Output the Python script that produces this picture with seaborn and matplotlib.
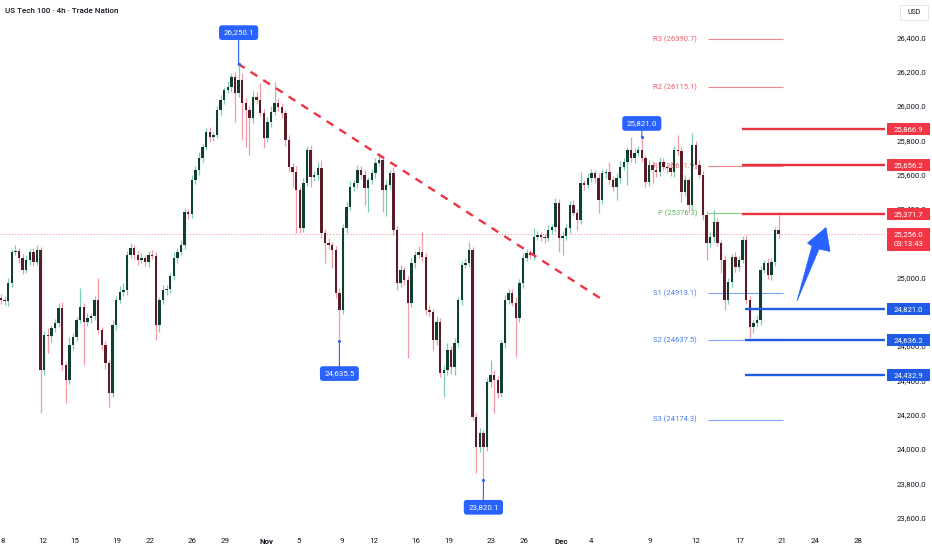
import matplotlib
matplotlib.use("Agg")
import numpy as np
import pandas as pd
import matplotlib.pyplot as plt
import seaborn as sns
from matplotlib.patches import Rectangle, Polygon
from matplotlib.transforms import blended_transform_factory

# ---------------- data ----------------
closes = [
    24872, 24865, 24971, 25152, 25160, 25117, 25047, 25105, 25152, 25093,
    25163, 24464, 24668, 24660, 24708, 24738, 24825, 24493, 24405, 24609,
    24656, 24755, 24831, 24743, 24767, 24778, 24872, 24697, 24609, 24504,
    24329, 24726, 24872, 24918, 24930, 25134, 25175, 25134, 25105, 25117,
    25093, 25134, 25128, 24726, 24872, 24930, 24935, 25012, 25117, 25152,
    25192, 25385, 25373, 25571, 25630, 25700, 25764, 25851, 25822, 25834,
    25980, 26038, 26096, 26114, 26172, 26079, 26155, 26020, 25980, 25933,
    26055, 26038, 25962, 25816, 25910, 25968, 26020, 25997, 25962, 25805,
    25647, 25618, 25513, 25292, 25554, 25746, 25589, 25601, 25641, 25262,
    25204, 25192, 25163, 24913, 24813, 25292, 25414, 25531, 25554, 25630,
    25601, 25525, 25571, 25612, 25671, 25688, 25513, 25542, 25612, 25280,
    24971, 25047, 24988, 24854, 25087, 25134, 25152, 25122, 24813, 24802,
    24638, 24743, 24446, 24464, 24580, 24481, 24621, 24872, 25076, 25087,
    25163, 24190, 24015, 24096, 24015, 24394, 24434, 24405, 24329, 24621,
    24872, 24913, 24854, 24767, 24971, 25117, 25146, 25134, 25239, 25251,
    25239, 25235, 25280, 25297, 25437, 25233, 25245, 25292, 25426, 25379,
    25338, 25554, 25542, 25583, 25612, 25583, 25455, 25612, 25618, 25571,
    25531, 25583, 25647, 25676, 25746, 25700, 25729, 25746, 25700, 25560,
    25659, 25630, 25618, 25676, 25647, 25641, 25618, 25746, 25740, 25501,
    25571, 25426, 25776, 25659, 25601, 25367, 25204, 25239, 25327, 25204,
    25105, 24872, 24977, 25122, 25064, 25105, 25222, 24872, 24714, 24738,
    24755, 25047, 25087, 25017, 25093, 25280, 25256,
]
first_open = 24885.0

# wick lengths above the body top / below the body bottom (index points)
upper_wick = [
    20, 25, 30, 20, 35, 15, 25, 30, 20, 25,
    30, 20, 25, 40, 20, 25, 30, 35, 20, 45,
    25, 20, 110, 25, 30, 20, 25, 128, 20, 25,
    20, 30, 25, 35, 40, 25, 30, 20, 25, 30,
    20, 25, 30, 25, 20, 30, 25, 20, 35, 25,
    30, 25, 20, 30, 25, 35, 20, 25, 30, 20,
    25, 30, 20, 35, 25, 30, 95.1, 40, 30, 25,
    35, 30, 99, 25, 30, 35, 123, 30, 25, 20,
    30, 25, 35, 20, 30, 25, 30, 20, 35, 47,
    25, 30, 20, 25, 30, 25, 30, 35, 20, 30,
    25, 30, 20, 25, 30, 41, 25, 30, 20, 35,
    25, 30, 20, 25, 30, 25, 35, 118, 25, 30,
    20, 35, 25, 30, 40, 25, 30, 20, 25, 30,
    47, 20, 25, 30, 20, 25, 88, 30, 25, 20,
    30, 25, 20, 35, 25, 30, 25, 20, 50, 25,
    20, 25, 30, 20, 29, 25, 30, 20, 25, 30,
    25, 64, 20, 30, 25, 20, 30, 25, 20, 58,
    25, 30, 35, 25, 20, 76, 30, 25, 75, 20,
    30, 25, 20, 30, 25, 20, 35, 25, 88, 25,
    30, 20, 69, 25, 30, 20, 25, 30, 70, 25,
    20, 30, 25, 20, 30, 25, 20, 30, 25, 20,
    30, 25, 20, 30, 25, 20, 87,
]
lower_wick = [
    25, 20, 30, 25, 20, 30, 25, 20, 30, 25,
    20, 251, 30, 97, 35, 20, 25, 30, 134, 25,
    30, 25, 20, 250, 25, 30, 20, 25, 30, 35,
    81, 25, 30, 20, 25, 30, 20, 25, 30, 20,
    25, 30, 20, 88, 40, 25, 30, 20, 25, 30,
    20, 25, 30, 25, 20, 30, 25, 20, 30, 25,
    20, 30, 25, 20, 30, 169, 25, 215, 216, 216,
    30, 25, 20, 58, 25, 30, 20, 25, 30, 35,
    25, 87, 250, 30, 25, 20, 60, 25, 30, 30,
    117, 25, 105, 30, 177.5, 25, 30, 20, 25, 30,
    25, 100, 140, 25, 30, 20, 128, 150, 25, 30,
    40, 25, 30, 320, 25, 30, 20, 25, 30, 25,
    60, 30, 25, 140, 30, 40, 47, 25, 30, 20,
    25, 20, 152, 30, 194.9, 25, 30, 192, 29, 25,
    30, 25, 20, 227, 25, 30, 20, 25, 30, 20,
    25, 30, 20, 25, 30, 81, 100, 25, 30, 20,
    58, 25, 30, 20, 25, 30, 76, 25, 30, 20,
    25, 76, 30, 20, 134, 25, 30, 20, 25, 29,
    25, 76, 30, 25, 20, 30, 25, 30, 20, 58,
    25, 41, 30, 25, 20, 30, 99, 25, 30, 20,
    76, 59, 25, 30, 30, 25, 20, 25, 64, 35,
    25, 30, 20, 25, 30, 25, 20,
]

# price-scale labels that are visible in the reference (25,200 and 24,800 sit under level boxes)
price_ticks = [26400, 26200, 26000, 25800, 25600, 25400, 25000,
               24600, 24400, 24200, 24000, 23800, 23600]
date_labels = ["8", "12", "15", "19", "22", "26", "29", "Nov", "5", "9", "12",
               "16", "19", "23", "26", "Dec", "4", "9", "12", "17", "21", "24", "28"]
month_labels = ["Nov", "Dec"]

pivot_names = ["R3", "R2", "R1", "P", "S1", "S2", "S3"]
pivot_values = [26390.7, 26115.1, 25651.9, 25376.3, 24913.1, 24637.5, 24174.3]
resistance_levels = [25866.9, 25656.2, 25371.7]
support_levels = [24821.0, 24636.2, 24432.9]
last_price = 25256.0
countdown = "03:13:43"
callout_values = [26250.1, 24635.5, 23820.1, 25821.0]
callout_bars = [66, 94, 134, 178]
trend_bars = [65.8, 167.2]
trend_prices = [26250.1, 24872.0]
title = "US Tech 100 · 4h · Trade Nation"

# ---------------- layout (pixels of the 932x550 picture) ----------------
W, H = 932, 550
AX_R, AX_B = 885, 527
BAR_PX, X0_PX = 3.6, 1.0
PX_PER_PT, REF_PY, REF_PRICE = 0.1715, 278.0, 25000.0

def bar_of_px(px):
    return (px - X0_PX) / BAR_PX

def price_of_py(py):
    return REF_PRICE + (REF_PY - py) / PX_PER_PT

date_px = [3, 43, 75, 117, 150, 192, 225, 267, 299, 342, 374, 416, 449, 491,
           524, 561, 591, 650, 696, 740, 782, 815, 858]
callout_offsets_pt = [22.3, -23.8, -19.4, 9.9]

UP_BODY, DN_BODY = "#103f30", "#5c1c27"
UP_WICK, DN_WICK = "#7fcdb5", "#f39ba6"
RED, BLUE = "#f23645", "#2962ff"
TXT = "#131722"

sns.set_theme(style="white")
plt.rcParams['font.family'] = ['Roboto', 'DejaVu Sans']

fig = plt.figure(figsize=(W / 100, H / 100), dpi=100)
fig.patch.set_facecolor("white")
ax = fig.add_axes([0, 1 - AX_B / H, AX_R / W, AX_B / H])
ax.set_facecolor("white")
ax.set_xlim(bar_of_px(0), bar_of_px(AX_R))
ax.set_ylim(price_of_py(AX_B), price_of_py(0))
ax.set_xticks([])
ax.set_yticks([])
for s in ax.spines.values():
    s.set_visible(False)

# ---------------- candles ----------------
df = pd.DataFrame({"close": closes, "uw": upper_wick, "lw": lower_wick})
df["open"] = [first_open] + closes[:-1]
df["top"] = df[["open", "close"]].max(axis=1)
df["bot"] = df[["open", "close"]].min(axis=1)
df["high"] = df["top"] + df["uw"]
df["low"] = df["bot"] - df["lw"]
df["up"] = df["close"] >= df["open"]
x = np.arange(len(df))

wick_cols = np.where(df["up"], UP_WICK, DN_WICK)
body_cols = np.where(df["up"], UP_BODY, DN_BODY)
ax.vlines(x, df["low"], df["high"], colors=wick_cols, lw=0.9, zorder=3)
ax.bar(x, np.maximum(df["top"] - df["bot"], 6), bottom=df["bot"], width=0.62,
       color=body_cols, linewidth=0, zorder=4)

# current price dotted line
ax.axhline(last_price, color=RED, lw=0.7, ls=(0, (1, 2)), alpha=0.6, zorder=2)

# trend line
sns.lineplot(x=trend_bars, y=trend_prices, ax=ax, color="#ee3344", lw=1.7,
             linestyle=(0, (3.4, 3.0)), zorder=5)

# pivot labels & lines
for name, val in zip(pivot_names, pivot_values):
    if name.startswith("R"):
        tc, lc = "#ef5b68", "#f3838e"
    elif name == "P":
        tc, lc = "#5cb85c", "#7fcf7f"
    else:
        tc, lc = "#4a7cf0", "#7ea2f5"
    ax.text(bar_of_px(697), val, f"{name} ({val:.1f})", ha="right", va="center",
            fontsize=5.5, color=tc, zorder=1)
    ax.hlines(val, bar_of_px(708), bar_of_px(783), color=lc, lw=0.8, zorder=1.5)

# thick user levels
for val in resistance_levels:
    ax.hlines(val, bar_of_px(742), bar_of_px(AX_R), color="#e8323f", lw=1.7, zorder=5)
for val in support_levels:
    ax.hlines(val, bar_of_px(745), bar_of_px(AX_R), color="#1f5be6", lw=1.7, zorder=5)

# callouts
sns.scatterplot(x=callout_bars, y=callout_values, ax=ax, color=BLUE, s=5,
                linewidth=0, zorder=6, legend=False)
for b, v, off in zip(callout_bars, callout_values, callout_offsets_pt):
    ax.annotate(f"{v:,.1f}", xy=(b, v), xytext=(0, off), textcoords="offset points",
                ha="center", va="center", color="white", fontsize=5.7,
                bbox=dict(boxstyle="round,pad=0.55,rounding_size=0.4", fc=BLUE, ec="none"),
                arrowprops=dict(arrowstyle="-", color=BLUE, lw=0.8, shrinkA=0, shrinkB=0),
                zorder=7)

# ---------------- right price scale ----------------
tr = blended_transform_factory(ax.transAxes, ax.transData)
for p in price_ticks:
    ax.text(926 / AX_R, p, f"{p:,.1f}", ha="right", va="center", fontsize=5.6,
            color=TXT, transform=tr, clip_on=False, zorder=1)

def scale_box(val, color, top_px, bot_px):
    rect = Rectangle((887 / AX_R, val - bot_px / PX_PER_PT), (930 - 887) / AX_R,
                     (top_px + bot_px) / PX_PER_PT, transform=tr, fc=color,
                     ec="none", clip_on=False, zorder=8)
    ax.add_patch(rect)

for val in resistance_levels:
    scale_box(val, RED, 6, 6)
    ax.text(908.5 / AX_R, val, f"{val:,.1f}", ha="center", va="center", fontsize=5.6,
            color="white", transform=tr, clip_on=False, zorder=9)
for val in support_levels:
    scale_box(val, "#1f5be6", 6, 6)
    ax.text(908.5 / AX_R, val, f"{val:,.1f}", ha="center", va="center", fontsize=5.6,
            color="white", transform=tr, clip_on=False, zorder=9)

# current price (two lines)
scale_box(last_price, RED, 6.5, 16.5)
ax.text(908.5 / AX_R, last_price, f"{last_price:,.1f}", ha="center", va="center",
        fontsize=5.6, color="white", transform=tr, clip_on=False, zorder=9)
ax.text(908.5 / AX_R, last_price - 10 / PX_PER_PT, countdown, ha="center", va="center",
        fontsize=5.6, color="white", transform=tr, clip_on=False, zorder=9)

# ---------------- dates ----------------
trd = blended_transform_factory(ax.transData, fig.transFigure)
for lab, px in zip(date_labels, date_px):
    ax.text(bar_of_px(px), 1 - 541 / H, lab, ha="center", va="center", fontsize=5.7,
            color=TXT, fontweight="bold" if lab in month_labels else "normal",
            transform=trd, clip_on=False)

# ---------------- title, USD box, arrow ----------------
fig.text(5 / W, 1 - 11 / H, title, ha="left", va="center", fontsize=5.8,
         fontweight="medium", color=TXT)
fig.patches.append(Rectangle((900 / W, 1 - 20 / H), 28 / W, 15 / H, transform=fig.transFigure,
                             fc="white", ec="#e0e3eb", lw=0.6))
fig.text(914 / W, 1 - 12.5 / H, "USD", ha="center", va="center", fontsize=5.0, color=TXT)

arrow_px = [(797, 301), (812, 246), (807.5, 243), (826, 227.5), (830, 251.5), (819, 249)]
fig.patches.append(Polygon([(px / W, 1 - py / H) for px, py in arrow_px], closed=True,
                           transform=fig.transFigure, fc="#2962ff", ec="#2962ff", lw=0.5))

fig.savefig("out.png", dpi=100)
